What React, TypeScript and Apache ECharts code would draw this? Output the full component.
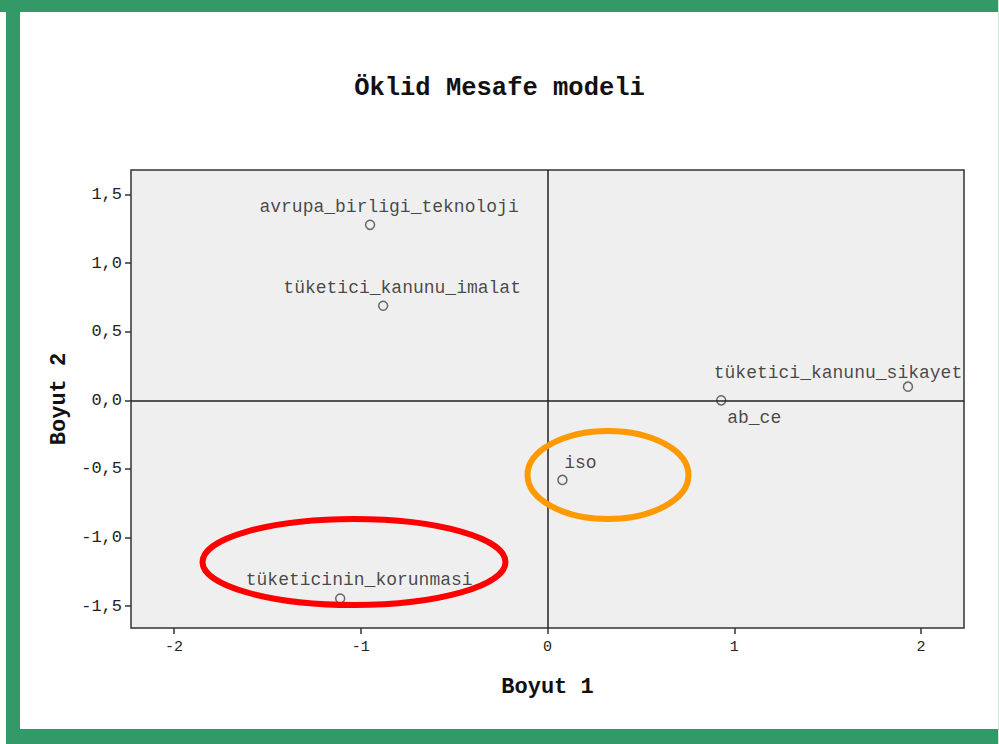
import React, { useEffect, useRef } from "react";
import * as echarts from "echarts";

const pointNames = [
  "avrupa_birligi_teknoloji",
  "tüketici_kanunu_imalat",
  "tüketici_kanunu_sikayet",
  "ab_ce",
  "iso",
  "tüketicinin_korunmasi",
];
const dim1Values = [-0.95, -0.88, 1.93, 0.93, 0.08, -1.11];
const dim2Values = [1.28, 0.69, 0.1, 0.0, -0.58, -1.445];
const xTicks = [-2, -1, 0, 1, 2];
const yTicks = [-1.5, -1.0, -0.5, 0.0, 0.5, 1.0, 1.5];

// label offsets (styling only)
const labelOffsets: [number, number][] = [
  [19, -18],
  [19, -18],
  [-70, -14],
  [33, 18],
  [18, -17],
  [19, -19],
];

const MONO = "'Liberation Mono', 'Courier New', monospace";
const GREEN = "#339966";

export default function App() {
  const ref = useRef<HTMLDivElement>(null);
  useEffect(() => {
    document.body.style.margin = "0";
    const chart = echarts.init(ref.current!, null, { renderer: "svg" });
    const data = pointNames.map((n, i) => ({
      value: [dim1Values[i], dim2Values[i]],
      name: n,
      label: { offset: labelOffsets[i] },
    }));
    chart.setOption({
      animation: false,
      backgroundColor: "#ffffff",
      title: {
        text: "Öklid Mesafe modeli",
        left: "center",
        top: 70,
        textStyle: { fontFamily: MONO, fontWeight: "bold", fontSize: 25.5, color: "#111" },
      },
      grid: {
        left: 131,
        top: 170,
        width: 833,
        height: 458,
        show: true,
        backgroundColor: "#efefef",
        borderColor: "#333",
        borderWidth: 1.5,
      },
      xAxis: {
        type: "value",
        min: -2.23,
        max: 2.23,
        position: "bottom",
        name: "Boyut 1",
        nameLocation: "middle",
        nameGap: 48,
        nameTextStyle: { fontFamily: MONO, fontWeight: "bold", fontSize: 22, color: "#111" },
        axisLine: { show: false, onZero: false },
        splitLine: { show: false },
        axisTick: {
          show: true,
          inside: false,
          length: 6,
          lineStyle: { color: "#333", width: 1.5 },
          customValues: xTicks,
        },
        axisLabel: {
          customValues: xTicks,
          fontFamily: MONO,
          fontSize: 15,
          color: "#222",
          margin: 12,
        },
      },
      yAxis: {
        type: "value",
        min: -1.66,
        max: 1.68,
        name: "Boyut 2",
        nameLocation: "middle",
        nameRotate: 90,
        nameGap: 56,
        nameTextStyle: { fontFamily: MONO, fontWeight: "bold", fontSize: 22, color: "#111" },
        axisLine: { show: false, onZero: false },
        splitLine: { show: false },
        axisTick: {
          show: true,
          inside: false,
          length: 6,
          lineStyle: { color: "#333", width: 1.5 },
          customValues: yTicks,
        },
        axisLabel: {
          customValues: yTicks,
          fontFamily: MONO,
          fontSize: 17,
          color: "#222",
          margin: 9,
          formatter: (v: number) => v.toFixed(1).replace(".", ","),
        },
      },
      series: [
        {
          type: "scatter",
          data,
          symbol: "circle",
          symbolSize: 9,
          itemStyle: { color: "rgba(0,0,0,0)", borderColor: "#444", borderWidth: 1.5 },
          label: {
            show: true,
            position: "inside",
            formatter: (p: any) => p.name,
            fontFamily: MONO,
            fontSize: 18,
            color: "#1a1a1a",
          },
          markLine: {
            silent: true,
            symbol: "none",
            label: { show: false },
            lineStyle: { color: "#222", width: 1.5, type: "solid" },
            data: [{ xAxis: 0 }, { yAxis: 0 }],
          },
          z: 3,
        },
      ],
      graphic: [
        { type: "rect", shape: { x: 0, y: 0, width: 999, height: 12 }, style: { fill: GREEN }, z: 10 },
        { type: "rect", shape: { x: 6, y: 0, width: 14, height: 744 }, style: { fill: GREEN }, z: 10 },
        { type: "rect", shape: { x: 6, y: 729, width: 993, height: 15 }, style: { fill: GREEN }, z: 10 },
        { type: "rect", shape: { x: 998, y: 0, width: 1, height: 744 }, style: { fill: "#cfe8dc" }, z: 10 },
        {
          type: "ellipse",
          shape: { cx: 608, cy: 475, rx: 80.5, ry: 44 },
          style: { fill: "none", stroke: "#ff9900", lineWidth: 6 },
          z: 20,
        },
        {
          type: "ellipse",
          shape: { cx: 354, cy: 562, rx: 151.5, ry: 43 },
          style: { fill: "none", stroke: "#ff0000", lineWidth: 6 },
          z: 20,
        },
      ],
    });
    return () => chart.dispose();
  }, []);
  return <div ref={ref} style={{ position: "absolute", left: 0, top: 0, width: 999, height: 744 }} />;
}
